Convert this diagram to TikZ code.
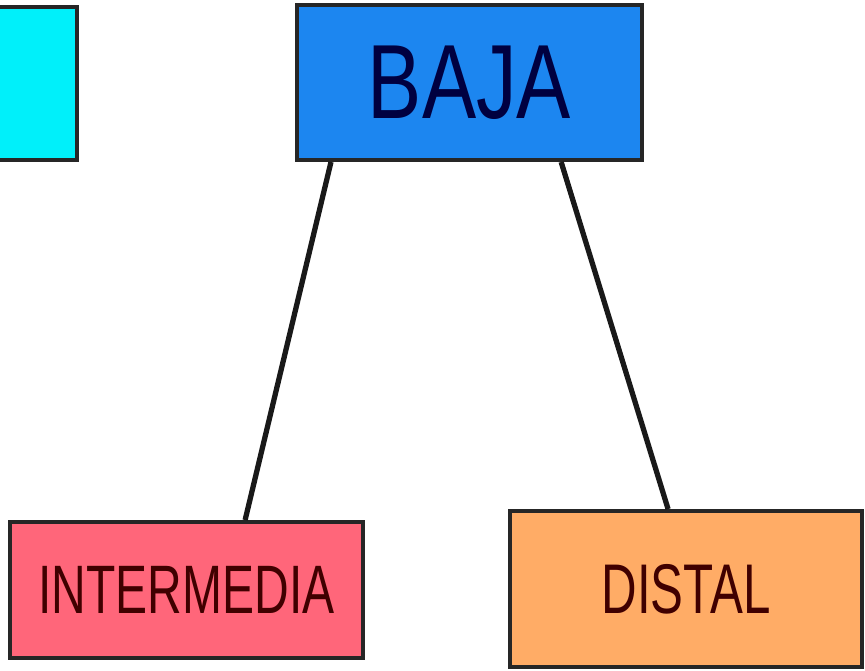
\documentclass[tikz,border=0pt]{standalone}
\usepackage{graphicx}
\usepackage{fontspec}
\setmainfont{Liberation Sans}
\usepackage{tikz}

\definecolor{cyanbox}{RGB}{0,240,250}
\definecolor{bluebox}{RGB}{28,134,240}
\definecolor{pinkbox}{RGB}{255,102,122}
\definecolor{orangebox}{RGB}{255,172,102}

\begin{document}
\begin{tikzpicture}[x=0.01cm, y=-0.01cm,
        box/.style={draw=black!85, line width=1.1pt, inner sep=0pt},
        link/.style={draw=black!90, line width=1.5pt}]
        \useasboundingbox (0,0) rectangle (865,670);
        \clip (0,0) rectangle (865,670);
        % top row
        \node[box, fill=cyanbox, minimum width=3.44cm, minimum height=1.53cm] (alta) at (-95,83.5) {};
        \node[box, fill=bluebox, minimum width=3.45cm, minimum height=1.55cm, text=blue!25!black] (baja) at (469.5,82.5)
            {\fontsize{30}{30}\selectfont\scalebox{0.77}[1]{BAJA}};
        % bottom row
        \node[box, fill=pinkbox, minimum width=3.53cm, minimum height=1.36cm, text=red!25!black] (intermedia) at (186.5,590)
            {\fontsize{19.5}{20}\selectfont\scalebox{0.7}[1]{INTERMEDIA}};
        \node[box, fill=orangebox, minimum width=3.52cm, minimum height=1.56cm, text=red!25!black] (distal) at (686,589)
            {\fontsize{20}{20}\selectfont\scalebox{0.7}[1]{DISTAL}};
        % links
        \draw[link] ([xshift=0.36cm]baja.south west) -- ([xshift=2.37cm]intermedia.north west);
        \draw[link] ([xshift=2.66cm]baja.south west) -- ([xshift=1.6cm]distal.north west);
    \end{tikzpicture}
\end{document}
